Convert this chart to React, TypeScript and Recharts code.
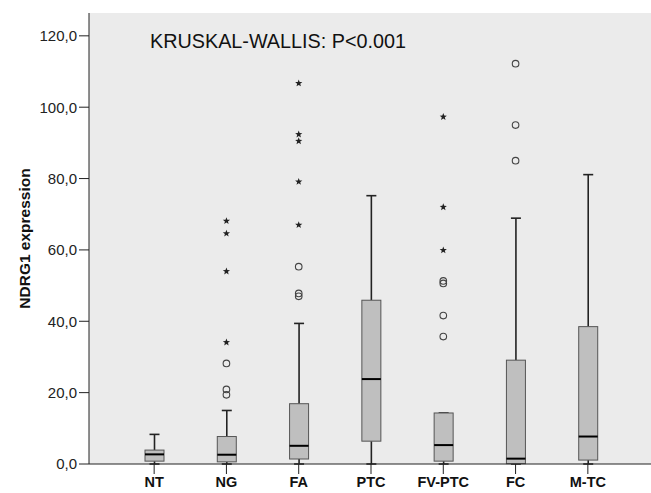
import {
  Bar,
  CartesianGrid,
  ComposedChart,
  Label,
  Scatter,
  XAxis,
  YAxis,
} from "recharts";

// box summaries
const categories = ["NT", "NG", "FA", "PTC", "FV-PTC", "FC", "M-TC"];
const whiskerLow = [0, 0, 0, 0, 0, 0, 0];
const q1 = [0.8, 0.6, 1.4, 6.4, 0.8, 0.1, 1.1];
const median = [2.7, 2.6, 5.1, 23.8, 5.3, 1.5, 7.7];
const q3 = [3.9, 7.7, 16.9, 45.9, 14.3, 29.1, 38.5];
const whiskerHigh = [8.3, 15.0, 39.4, 75.2, 14.3, 68.9, 81.1];

// outliers (circles) and extremes (stars)
const circleCats = ["NG", "NG", "NG", "FA", "FA", "FA", "FV-PTC", "FV-PTC", "FV-PTC", "FV-PTC", "FC", "FC", "FC"];
const circleValues = [19.4, 20.9, 28.2, 47.0, 47.8, 55.3, 35.7, 41.6, 50.6, 51.3, 85.0, 95.0, 112.2];
const starCats = ["NG", "NG", "NG", "NG", "FA", "FA", "FA", "FA", "FA", "FV-PTC", "FV-PTC", "FV-PTC"];
const starValues = [34.1, 54.0, 64.6, 68.1, 67.0, 79.1, 90.5, 92.4, 106.7, 59.9, 72.0, 97.3];

const yTicks = [0, 20, 40, 60, 80, 100, 120];

const FONT = "'Liberation Sans', Arial, sans-serif";
const BG = "#EBEBEB";
const BOX_FILL = "#BFBFBF";
const BOX_STROKE = "#555555";
const INK = "#222222";

type BoxRow = {
  cat: string;
  range: [number, number];
  q1: number;
  median: number;
  q3: number;
};

const rows: BoxRow[] = categories.map((cat, i) => ({
  cat,
  range: [whiskerLow[i], whiskerHigh[i]],
  q1: q1[i],
  median: median[i],
  q3: q3[i],
}));

const circles = circleCats.map((cat, i) => ({ cat, value: circleValues[i] }));
const stars = starCats.map((cat, i) => ({ cat, value: starValues[i] }));

function BoxShape(props: any) {
  const { x, y, width, height, payload } = props;
  const [lo, hi] = payload.range as [number, number];
  const top = Math.min(y, y + height);
  const bot = Math.max(y, y + height);
  const ppu = hi > lo ? (bot - top) / (hi - lo) : 0;
  const py = (v: number) => bot - (v - lo) * ppu;
  const cx = x + width / 2;
  const capHalf = 5;
  const yq1 = py(payload.q1);
  const yq3 = py(payload.q3);
  const ymed = py(payload.median);
  return (
    <g>
      <line x1={cx} x2={cx} y1={top} y2={yq3} stroke={INK} strokeWidth={1.6} />
      <line x1={cx} x2={cx} y1={yq1} y2={bot} stroke={INK} strokeWidth={1.6} />
      <line x1={cx - capHalf} x2={cx + capHalf} y1={top} y2={top} stroke={INK} strokeWidth={1.6} />
      <line x1={cx - capHalf} x2={cx + capHalf} y1={bot} y2={bot} stroke={INK} strokeWidth={1.6} />
      <rect
        x={x}
        y={yq3}
        width={width}
        height={Math.max(yq1 - yq3, 0.5)}
        fill={BOX_FILL}
        stroke={BOX_STROKE}
        strokeWidth={1}
      />
      <line x1={x} x2={x + width} y1={ymed} y2={ymed} stroke="#000" strokeWidth={2} />
    </g>
  );
}

function CircleDot(props: any) {
  const { cx, cy } = props;
  return <circle cx={cx} cy={cy} r={3.3} fill="none" stroke="#444" strokeWidth={1.1} />;
}

function StarDot(props: any) {
  const { cx, cy } = props;
  const pts: string[] = [];
  for (let k = 0; k < 10; k += 1) {
    const r = k % 2 === 0 ? 3.8 : 1.6;
    const a = -Math.PI / 2 + (k * Math.PI) / 5;
    pts.push(`${cx + r * Math.cos(a)},${cy + r * Math.sin(a)}`);
  }
  return <polygon points={pts.join(" ")} fill="#222" />;
}

export default function App() {
  return (
    <div style={{ position: "absolute", left: 0, top: 0, width: 651, height: 493, background: "#fff" }}>
      <ComposedChart
        width={651}
        height={493}
        data={rows}
        margin={{ top: 13, right: 0, left: 0, bottom: 0 }}
      >
        <CartesianGrid horizontal={false} vertical={false} fill={BG} />
        <XAxis
          dataKey="cat"
          type="category"
          allowDuplicatedCategory={false}
          height={29}
          padding={{ left: 29, right: 27 }}
          tick={{ fontSize: 14.5, fontWeight: 700, fill: "#111", fontFamily: FONT }}
          tickSize={10}
          tickMargin={3}
          axisLine={{ stroke: INK }}
          tickLine={{ stroke: INK }}
          interval={0}
        />
        <YAxis
          type="number"
          domain={[0, 126.4]}
          ticks={yTicks}
          width={89}
          tickFormatter={(v: number) => v.toFixed(1).replace(".", ",")}
          tick={{ fontSize: 15, fill: "#222", fontFamily: FONT }}
          tickSize={10}
          tickMargin={2}
          axisLine={{ stroke: INK }}
          tickLine={{ stroke: INK }}
        >
          <Label
            value="NDRG1 expression"
            angle={-90}
            position="center"
            dx={-20}
            style={{ fontSize: 15.5, fontWeight: 700, fill: "#111", fontFamily: FONT }}
          />
        </YAxis>
        <Bar dataKey="range" barSize={19} shape={BoxShape} isAnimationActive={false} />
        <Scatter data={circles} dataKey="value" shape={CircleDot} isAnimationActive={false} />
        <Scatter data={stars} dataKey="value" shape={StarDot} isAnimationActive={false} />
      </ComposedChart>
      <div
        style={{
          position: "absolute",
          left: 150,
          top: 30,
          fontFamily: FONT,
          fontSize: 19.8,
          color: "#111",
          whiteSpace: "nowrap",
          lineHeight: "22px",
        }}
      >
        KRUSKAL-WALLIS: P&lt;0.001
      </div>
    </div>
  );
}
